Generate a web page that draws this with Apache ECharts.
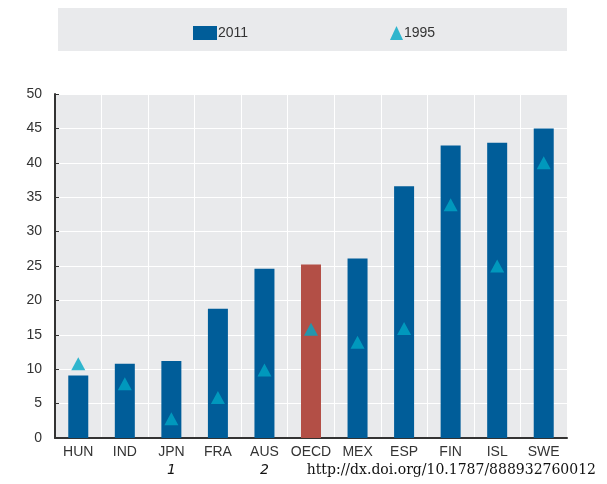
<!DOCTYPE html>
<html>
<head>
<meta charset="utf-8">
<script src="https://cdn.jsdelivr.net/npm/echarts@6/dist/echarts.min.js"></script>
<style>
  html, body { margin: 0; padding: 0; background: #fff; }
  #chart { width: 607px; height: 484px; }
</style>
</head>
<body>
<div id="chart"></div>
<script>
// 国家代码与脚注
const countries = ['HUN', 'IND', 'JPN', 'FRA', 'AUS', 'OECD', 'MEX', 'ESP', 'FIN', 'ISL', 'SWE'];
const footnotes = { JPN: '1', AUS: '2' };
const values2011 = [9.1, 10.8, 11.2, 18.8, 24.6, 25.2, 26.1, 36.6, 42.5, 42.9, 45.0];
const values1995 = [10.8, 7.9, 2.8, 5.9, 9.9, 15.8, 13.9, 15.9, 33.9, 25.0, 40.0];
const yTicks = [0, 5, 10, 15, 20, 25, 30, 35, 40, 45, 50];
const sourceUrl = 'http://dx.doi.org/10.1787/888932760012';

const font = "'Liberation Sans Narrow', 'Liberation Sans', Arial, sans-serif";
const chart = echarts.init(document.getElementById('chart'));

const option = {
  animation: false,
  graphic: [
    // 图例背景
    { type: 'rect', left: 58, top: 8, z: -1, shape: { width: 509, height: 43 }, style: { fill: '#e9eaec' } },
    {
      type: 'text', right: 11, top: 463,
      style: { text: sourceUrl, font: "14px 'DejaVu Serif', serif", fill: '#111' }
    }
  ],
  legend: [
    {
      data: [{ name: '2011', icon: 'rect' }], left: 188, top: 21, itemWidth: 24, itemHeight: 14,
      textStyle: { fontFamily: font, fontSize: 14, color: '#333', padding: [0, 0, 0, -4] }
    },
    {
      data: [{ name: '1995', icon: 'triangle' }], left: 385, top: 21, itemWidth: 13, itemHeight: 14,
      textStyle: { fontFamily: font, fontSize: 14, color: '#333', padding: [0, 0, 0, -4] }
    }
  ],
  grid: {
    left: 55, right: 40, top: 94, bottom: 46,
    show: true, backgroundColor: '#e9eaec', borderWidth: 0
  },
  xAxis: {
    type: 'category',
    data: countries,
    axisLine: { lineStyle: { color: '#333', width: 2 } },
    axisTick: { inside: true, length: 4, interval: 0, lineStyle: { color: '#333' } },
    splitLine: { show: true, interval: 0, lineStyle: { color: '#fff', width: 1 } },
    axisLabel: {
      interval: 0,
      margin: 7,
      fontFamily: font, fontSize: 14, color: '#333',
      formatter: (v) => footnotes[v] ? v + '\n{fn|' + footnotes[v] + '}' : v,
      rich: {
        fn: { fontFamily: "'DejaVu Sans', sans-serif", fontStyle: 'italic', fontSize: 14, color: '#111', padding: [4, 0, 0, 0] }
      }
    }
  },
  yAxis: {
    type: 'value',
    min: yTicks[0], max: yTicks[yTicks.length - 1], interval: 5,
    axisLine: { show: true, lineStyle: { color: '#333', width: 2 } },
    axisTick: { show: true, inside: true, length: 4, lineStyle: { color: '#333' } },
    splitLine: { lineStyle: { color: '#fff', width: 1 } },
    axisLabel: { margin: 13, fontFamily: font, fontSize: 14, color: '#333' }
  },
  series: [
    {
      name: '2011',
      type: 'bar',
      barWidth: 20,
      itemStyle: { color: '#005d99' },
      data: values2011.map((v, i) => countries[i] === 'OECD'
        ? { value: v, itemStyle: { color: '#b34f46' } }
        : v)
    },
    {
      name: '1995',
      type: 'scatter',
      symbol: 'triangle',
      symbolSize: [14, 13],
      itemStyle: { color: '#00a8c6' },
      data: values1995,
      z: 3
    }
  ]
};
chart.setOption(option);
</script>
</body>
</html>
